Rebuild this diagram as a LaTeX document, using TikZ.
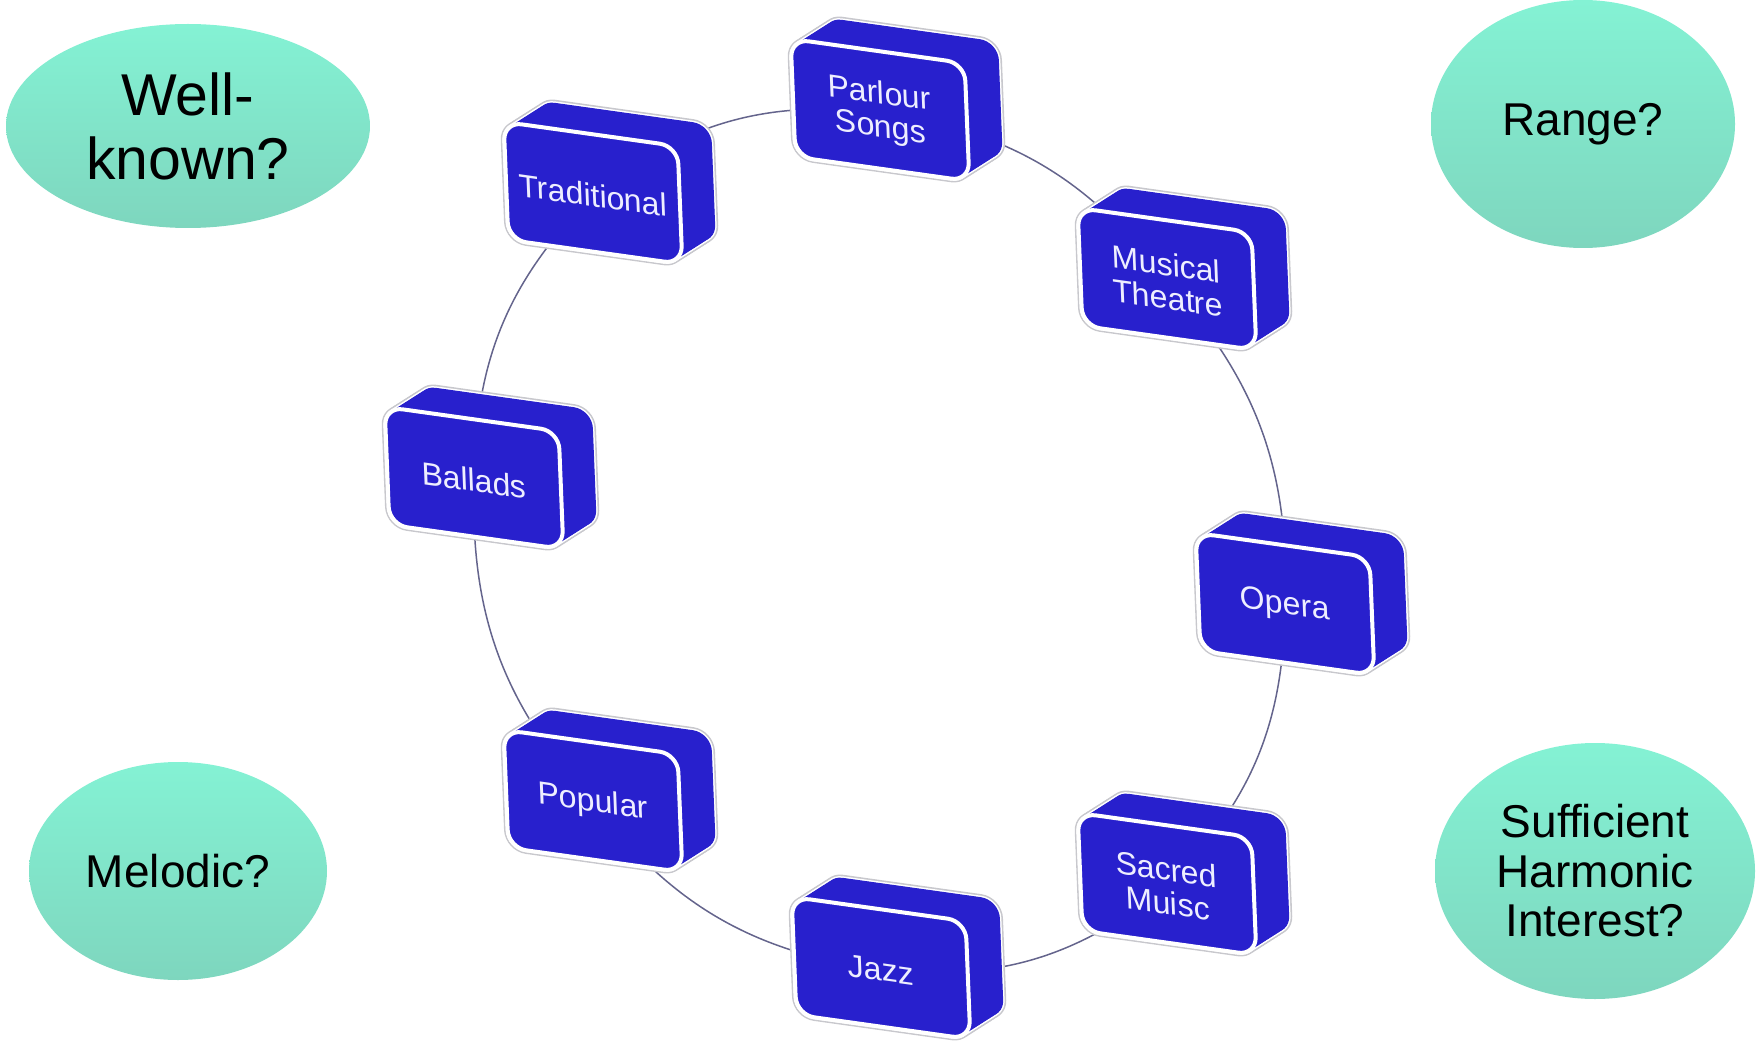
\documentclass[tikz,border=0pt]{standalone}
\usepackage{fontspec}
\setmainfont{Liberation Sans}
\usetikzlibrary{shapes.geometric}
\definecolor{boxblue}{RGB}{40,32,205}
\definecolor{boxedge}{RGB}{200,200,205}
\definecolor{ringline}{RGB}{100,100,140}
\definecolor{elltop}{RGB}{132,242,212}
\definecolor{ellbot}{RGB}{126,214,190}
\definecolor{boxtextc}{RGB}{238,238,255}
\pgfdeclarelayer{bg}
\pgfsetlayers{bg,main}
\tikzset{
  boxtf/.style={cm={1,-0.14,-0.04,1,(0,0)}},
  faceoutline/.style={draw=boxedge, line width=3.6pt, rounded corners=9pt},
  facewhite/.style={draw=white, line width=2pt, rounded corners=9pt},
  facefill/.style={fill=boxblue, draw=boxblue, line width=0.5pt, rounded corners=9pt},
  frontface/.style={fill=boxblue, draw=white, line width=2pt, rounded corners=9pt},
  boxtxt/.style={transform shape, text=boxtextc, align=center, inner sep=0pt,
    font=\fontsize{16pt}{17pt}\selectfont},
  bubble/.style={ellipse, inner sep=0pt, top color=elltop, bottom color=ellbot,
    draw=none, align=center, text=black},
  ring/.style={draw=ringline, line width=0.75pt},
}
\newcommand\genrebox[4]{%
  \foreach \k in {0,0.1,...,1.01}{
    \begin{scope}[shift={(#2+33*\k,#3-21*\k)}, boxtf]
      \path[faceoutline] (-87,-59) rectangle (87,59);
    \end{scope}}
  \foreach \k in {0,0.1,...,1.01}{
    \begin{scope}[shift={(#2+33*\k,#3-21*\k)}, boxtf]
      \path[facewhite] (-87,-59) rectangle (87,59);
    \end{scope}}
  \foreach \k in {0,0.1,...,1.01}{
    \begin{scope}[shift={(#2+33*\k,#3-21*\k)}, boxtf]
      \path[facefill] (-87,-59) rectangle (87,59);
    \end{scope}}
  \begin{scope}[shift={(#2,#3)}, boxtf]
    \path[frontface] (-87,-59) rectangle (87,59);
    \node[boxtxt] (#1) at (0,2) {#4};
  \end{scope}}
\begin{document}
\begin{tikzpicture}[x=0.5pt,y=-0.5pt]
\useasboundingbox (0,0) rectangle (1756,1043);

% question bubbles
\node[bubble, minimum width=182pt, minimum height=102pt,
  font=\fontsize{29.5pt}{32pt}\selectfont] (wellknown) at (188,126) {Well-\\known?};
\node[bubble, minimum width=152pt, minimum height=124pt,
  font=\fontsize{23pt}{24.75pt}\selectfont] (range) at (1583,124) {Range?};
\node[bubble, minimum width=149pt, minimum height=109pt,
  font=\fontsize{23pt}{24.75pt}\selectfont] (melodic) at (178,871) {Melodic?};
\node[bubble, minimum width=160pt, minimum height=128pt,
  font=\fontsize{23pt}{24.75pt}\selectfont] (harmonic) at (1595,871) {Sufficient\\Harmonic\\Interest?};

% genre boxes
\genrebox{parlour}{880}{110}{Parlour\\Songs}
\genrebox{trad}{593}{193}{Traditional}
\genrebox{musical}{1167}{279}{Musical\\Theatre}
\genrebox{ballads}{474}{478}{Ballads}
\genrebox{opera}{1285}{604}{Opera}
\genrebox{popular}{593}{801}{Popular}
\genrebox{sacred}{1167}{884}{Sacred\\Muisc}
\genrebox{jazz}{881}{968}{Jazz}

% ring connectors
\begin{pgfonlayer}{bg}
\draw[ring] (parlour.center) to[bend left=22] (musical.center);
\draw[ring] (musical.center) to[bend left=22] (opera.center);
\draw[ring] (opera.center) to[bend left=22] (sacred.center);
\draw[ring] (sacred.center) to[bend left=22] (jazz.center);
\draw[ring] (jazz.center) to[bend left=22] (popular.center);
\draw[ring] (popular.center) to[bend left=22] (ballads.center);
\draw[ring] (ballads.center) to[bend left=22] (trad.center);
\draw[ring] (trad.center) to[bend left=22] (parlour.center);
\end{pgfonlayer}
\end{tikzpicture}
\end{document}
